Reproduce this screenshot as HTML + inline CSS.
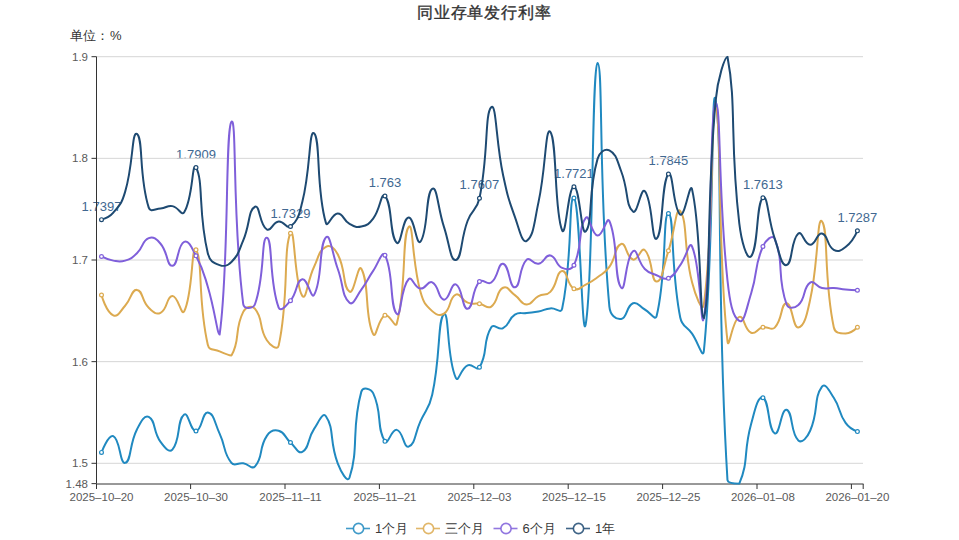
<!DOCTYPE html>
<html><head><meta charset="utf-8"><style>
html,body{margin:0;padding:0;background:#fff;width:959px;height:540px;overflow:hidden;position:relative;font-family:"Liberation Sans",sans-serif}
.title{position:absolute;left:417px;top:3px;font-size:16px;letter-spacing:0.8px;font-weight:normal;-webkit-text-stroke:0.35px #333;color:#333;white-space:nowrap}
.unit{position:absolute;left:70px;top:27px;font-size:13px;color:#333;white-space:nowrap}
</style></head><body>
<svg width="959" height="540" viewBox="0 0 959 540" style="position:absolute;left:0;top:0"><defs><clipPath id="cp"><rect x="95.5" y="55.7" width="768.0" height="428.92999999999995"/></clipPath></defs><text x="101.50" y="210.64" text-anchor="middle" font-size="13" fill="#416891" font-family="Liberation Sans, sans-serif">1.7397</text><text x="195.99" y="158.60" text-anchor="middle" font-size="13" fill="#416891" font-family="Liberation Sans, sans-serif">1.7909</text><text x="290.48" y="217.56" text-anchor="middle" font-size="13" fill="#416891" font-family="Liberation Sans, sans-serif">1.7329</text><text x="384.96" y="186.96" text-anchor="middle" font-size="13" fill="#416891" font-family="Liberation Sans, sans-serif">1.763</text><text x="479.45" y="189.30" text-anchor="middle" font-size="13" fill="#416891" font-family="Liberation Sans, sans-serif">1.7607</text><text x="573.94" y="177.71" text-anchor="middle" font-size="13" fill="#416891" font-family="Liberation Sans, sans-serif">1.7721</text><text x="668.43" y="165.11" text-anchor="middle" font-size="13" fill="#416891" font-family="Liberation Sans, sans-serif">1.7845</text><text x="762.92" y="188.69" text-anchor="middle" font-size="13" fill="#416891" font-family="Liberation Sans, sans-serif">1.7613</text><text x="857.40" y="221.83" text-anchor="middle" font-size="13" fill="#416891" font-family="Liberation Sans, sans-serif">1.7287</text><line x1="96.5" y1="56.70" x2="863" y2="56.70" stroke="#d6d6d6" stroke-width="1"/><line x1="96.5" y1="158.35" x2="863" y2="158.35" stroke="#d6d6d6" stroke-width="1"/><line x1="96.5" y1="260.00" x2="863" y2="260.00" stroke="#d6d6d6" stroke-width="1"/><line x1="96.5" y1="361.65" x2="863" y2="361.65" stroke="#d6d6d6" stroke-width="1"/><line x1="96.5" y1="463.30" x2="863" y2="463.30" stroke="#d6d6d6" stroke-width="1"/><line x1="96.5" y1="56.70" x2="96.5" y2="483.63" stroke="#333" stroke-width="1"/><line x1="91.5" y1="56.70" x2="96.5" y2="56.70" stroke="#333" stroke-width="1"/><line x1="91.5" y1="158.35" x2="96.5" y2="158.35" stroke="#333" stroke-width="1"/><line x1="91.5" y1="260.00" x2="96.5" y2="260.00" stroke="#333" stroke-width="1"/><line x1="91.5" y1="361.65" x2="96.5" y2="361.65" stroke="#333" stroke-width="1"/><line x1="91.5" y1="463.30" x2="96.5" y2="463.30" stroke="#333" stroke-width="1"/><line x1="91.5" y1="483.63" x2="96.5" y2="483.63" stroke="#333" stroke-width="1"/><line x1="96.5" y1="484" x2="863.5" y2="484" stroke="#333" stroke-width="1"/><line x1="96.50" y1="484" x2="96.50" y2="489" stroke="#333" stroke-width="1"/><line x1="190.60" y1="484" x2="190.60" y2="489" stroke="#333" stroke-width="1"/><line x1="285.00" y1="484" x2="285.00" y2="489" stroke="#333" stroke-width="1"/><line x1="379.40" y1="484" x2="379.40" y2="489" stroke="#333" stroke-width="1"/><line x1="473.80" y1="484" x2="473.80" y2="489" stroke="#333" stroke-width="1"/><line x1="568.20" y1="484" x2="568.20" y2="489" stroke="#333" stroke-width="1"/><line x1="662.60" y1="484" x2="662.60" y2="489" stroke="#333" stroke-width="1"/><line x1="757.00" y1="484" x2="757.00" y2="489" stroke="#333" stroke-width="1"/><line x1="851.40" y1="484" x2="851.40" y2="489" stroke="#333" stroke-width="1"/><line x1="863.20" y1="484" x2="863.20" y2="489" stroke="#333" stroke-width="1"/><g clip-path="url(#cp)" fill="none" stroke-width="2" stroke-linejoin="round" stroke-linecap="round"><path d="M101.50 452.42C101.50 452.42 108.50 434.03 113.31 436.16C120.31 439.26 119.79 464.41 125.12 462.89C131.60 461.05 128.98 444.92 136.93 429.45C140.79 421.95 144.22 414.55 148.74 416.95C156.03 420.80 152.72 431.14 160.56 441.95C164.54 447.45 169.11 453.36 172.37 449.58C180.93 439.63 176.55 420.52 184.18 414.51C188.36 411.22 190.32 431.46 195.99 430.98C202.13 430.45 202.18 411.85 207.80 412.47C213.99 413.17 214.48 422.67 219.61 433.62C226.29 447.88 222.83 452.10 231.42 462.89C234.64 466.94 237.42 462.45 243.23 463.30C249.23 464.18 251.83 470.08 255.04 466.35C263.65 456.35 258.38 448.62 266.85 435.85C270.19 430.83 273.51 429.33 278.66 430.77C285.32 432.63 284.28 436.94 290.48 442.46C296.09 447.46 297.94 454.32 302.29 451.81C309.75 447.51 307.02 439.50 314.10 428.84C318.83 421.71 322.81 411.71 325.91 416.24C334.62 428.94 329.17 441.11 337.72 463.30C340.98 471.76 347.45 483.63 349.53 477.53C359.27 448.00 350.96 428.73 361.34 391.64C362.77 386.54 370.87 388.35 373.15 393.16C382.68 413.20 376.10 427.57 384.96 441.34C387.91 445.92 391.51 428.68 396.77 429.86C403.33 431.32 403.58 448.42 408.59 446.63C415.39 444.20 414.64 434.09 420.40 421.42C426.45 408.12 429.08 408.86 432.21 394.69C440.89 355.29 437.44 318.95 444.02 314.28C449.26 310.56 446.50 357.72 455.83 377.91C458.31 383.28 460.67 368.56 467.64 365.41C472.48 363.22 476.82 371.49 479.45 367.24C488.63 352.38 482.06 342.39 491.26 327.19C493.87 322.87 498.38 330.69 503.07 328.21C510.19 324.44 507.79 319.24 514.88 314.69C519.60 311.67 520.79 313.85 526.70 313.06C532.60 312.27 532.68 312.69 538.51 311.54C544.49 310.35 544.31 309.08 550.32 308.39C556.12 307.71 561.00 314.08 562.13 308.79C572.81 258.89 568.41 194.40 573.94 197.99C580.22 202.08 581.90 346.18 585.75 324.14C593.71 278.68 591.45 67.55 597.56 63.00C603.26 63.00 598.34 186.98 609.37 306.56C610.15 314.95 615.69 319.74 621.18 318.96C627.50 318.06 625.96 306.02 633.00 303.20C637.78 301.29 638.91 306.33 644.81 309.50C650.72 312.69 655.26 321.44 656.62 315.91C667.07 273.41 662.57 213.04 668.43 213.44C674.38 213.85 670.32 267.05 680.24 317.53C682.13 327.18 686.28 325.52 692.05 333.70C698.09 342.24 702.95 359.96 703.86 350.98C714.76 243.32 710.97 74.74 715.67 100.41C722.79 139.28 716.04 294.49 727.48 480.07C727.85 483.63 737.30 483.63 739.29 483.63C749.11 460.30 743.09 453.12 751.11 423.96C754.90 410.17 757.79 395.71 762.92 397.74C769.60 400.38 767.79 429.79 774.73 433.31C779.60 435.79 781.28 408.15 786.54 409.73C793.09 411.70 790.28 433.24 798.35 440.43C802.09 443.76 807.21 437.51 810.16 430.77C819.02 410.57 813.26 398.74 821.97 386.55C825.07 382.22 829.42 391.03 833.78 397.74C841.23 409.17 837.87 411.78 845.59 422.84C849.68 428.70 857.40 431.59 857.40 431.59" stroke="#2089c0"/><path d="M101.50 295.07C101.50 295.07 106.15 312.16 113.31 315.40C117.96 317.50 119.98 311.30 125.12 305.74C131.79 298.54 131.27 289.40 136.93 289.89C143.08 290.41 141.36 300.60 148.74 307.78C153.17 312.08 156.00 315.11 160.56 312.86C167.82 309.27 166.28 296.48 172.37 296.09C178.09 295.72 181.40 316.78 184.18 311.33C193.21 293.65 191.31 243.24 195.99 249.83C203.12 259.91 197.46 300.22 207.80 344.67C209.27 350.99 213.46 348.58 219.61 351.38C225.27 353.96 228.86 355.45 231.42 355.45C240.67 339.96 233.93 330.21 243.23 311.84C245.74 306.88 251.90 305.01 255.04 308.79C263.71 319.24 258.32 327.01 266.85 340.30C270.13 345.41 277.45 351.09 278.66 345.59C289.26 297.57 282.93 249.16 290.48 233.27C294.74 224.30 294.38 284.69 302.29 295.88C306.19 301.41 307.29 280.85 314.10 266.71C319.10 256.30 318.54 250.69 325.91 246.79C330.35 244.44 334.63 248.32 337.72 254.21C346.44 270.79 342.40 287.33 349.53 291.71C354.21 294.60 358.03 262.81 361.34 268.74C369.85 284.00 364.30 316.66 373.15 334.10C376.11 339.94 377.81 318.47 384.96 315.30C389.62 313.23 395.25 329.34 396.77 323.63C407.06 285.22 401.53 236.66 408.59 227.07C413.34 220.60 411.64 260.37 420.40 291.51C423.46 302.40 424.48 303.88 432.21 311.13C436.29 314.96 439.89 316.57 444.02 313.67C451.70 308.28 448.62 297.91 455.83 294.56C460.43 292.42 461.18 300.16 467.64 302.69C472.99 304.79 473.61 302.86 479.45 303.81C485.42 304.79 487.09 309.39 491.26 306.56C498.90 301.36 495.81 291.28 503.07 287.75C507.62 285.54 509.22 291.07 514.88 295.07C521.03 299.41 520.67 304.16 526.70 304.42C532.48 304.67 532.18 299.44 538.51 296.09C543.99 293.18 546.26 296.21 550.32 291.92C558.07 283.71 555.87 271.91 562.13 271.08C567.68 270.34 566.51 284.51 573.94 288.77C578.32 291.27 580.15 287.32 585.75 284.60C591.96 281.58 592.02 281.43 597.56 277.28C603.83 272.59 604.91 273.22 609.37 266.91C616.72 256.55 614.47 246.02 621.18 243.94C626.28 242.36 626.33 257.84 633.00 259.59C638.14 260.94 641.14 246.73 644.81 250.14C652.95 257.71 650.65 281.37 656.62 281.55C662.46 281.73 663.20 266.43 668.43 250.85C675.01 231.26 675.93 205.47 680.24 211.21C687.75 221.22 683.28 247.76 692.05 282.36C695.09 294.37 702.53 314.26 703.86 304.42C714.34 226.84 710.27 107.52 715.67 107.52C722.08 117.48 716.89 247.22 727.48 341.12C728.70 351.92 732.48 319.33 739.29 316.92C744.30 315.16 743.98 329.66 751.11 332.78C755.80 334.84 756.72 328.65 762.92 327.29C768.53 326.06 771.14 331.25 774.73 327.60C782.95 319.21 780.63 303.20 786.54 303.20C792.44 303.20 792.78 328.44 798.35 327.60C804.59 326.66 806.89 314.36 810.16 299.64C818.70 261.25 816.93 215.50 821.97 221.37C828.75 229.27 823.29 277.42 833.78 327.19C835.10 333.43 839.68 333.37 845.59 333.39C851.49 333.42 857.40 327.29 857.40 327.29" stroke="#dcaa50"/><path d="M101.50 256.44C101.50 256.44 107.23 259.54 113.31 260.61C119.04 261.62 119.70 262.29 125.12 260.61C131.51 258.63 131.98 258.01 136.93 253.29C143.79 246.77 141.72 240.99 148.74 238.15C153.53 236.21 156.50 238.99 160.56 243.74C168.31 252.82 166.66 266.26 172.37 265.79C178.47 265.30 177.17 244.76 184.18 241.80C188.98 239.78 191.78 247.82 195.99 255.83C203.59 270.29 203.05 270.92 207.80 286.73C214.86 310.26 217.39 334.51 219.61 334.51C229.20 267.50 225.06 129.97 231.42 121.76C236.87 114.72 232.14 218.42 243.23 304.01C243.95 309.55 253.28 308.96 255.04 304.01C265.09 275.77 261.10 236.77 266.85 237.64C272.91 238.55 268.76 281.16 278.66 307.57C280.58 312.67 286.24 305.74 290.48 300.66C298.05 291.56 295.73 280.82 302.29 279.21C307.54 277.92 311.14 300.10 314.10 294.87C322.95 279.21 318.39 245.75 325.91 237.43C330.20 232.69 332.03 253.01 337.72 268.74C343.84 285.64 341.60 295.66 349.53 302.69C353.41 306.13 356.12 296.71 361.34 289.68C367.94 280.80 366.88 280.03 373.15 270.88C378.69 262.80 382.05 249.92 384.96 255.22C393.86 271.41 389.45 306.43 396.77 313.87C401.26 318.43 400.22 288.18 408.59 279.21C412.03 275.52 414.13 287.73 420.40 288.56C425.94 289.30 427.61 280.21 432.21 282.36C439.42 285.75 437.87 299.11 444.02 299.64C449.68 300.13 450.92 282.49 455.83 284.40C462.73 287.07 462.00 309.47 467.64 308.79C473.82 308.05 471.01 290.92 479.45 281.55C482.82 277.81 487.15 285.66 491.26 282.57C498.96 276.77 497.68 262.67 503.07 263.76C509.49 265.06 509.37 288.32 514.88 287.34C521.19 286.23 518.35 267.92 526.70 259.59C530.16 256.13 533.02 264.73 538.51 263.76C544.84 262.64 544.92 254.47 550.32 255.43C556.74 256.56 555.20 265.07 562.13 267.93C567.01 269.95 571.59 270.17 573.94 265.18C583.40 245.11 577.53 228.10 585.75 217.82C589.34 213.31 591.28 234.77 597.56 235.60C603.09 236.34 606.81 215.31 609.37 220.97C618.62 241.38 613.64 278.08 621.18 287.75C625.45 293.22 625.40 257.31 633.00 251.26C637.21 247.90 637.56 261.58 644.81 268.95C649.37 273.58 650.44 272.80 656.62 275.25C662.25 277.48 663.61 280.37 668.43 278.30C675.42 275.29 674.97 272.17 680.24 265.08C686.78 256.27 689.29 240.32 692.05 246.48C701.11 266.74 700.89 334.51 703.86 317.94C712.70 264.02 709.20 112.74 715.67 102.44C721.01 102.44 717.94 192.03 727.48 280.33C729.75 301.30 732.38 317.15 739.29 320.99C744.19 323.71 746.59 307.69 751.11 293.44C758.40 270.43 753.77 267.65 762.92 246.48C765.58 240.31 772.66 233.70 774.73 238.76C784.47 262.57 776.51 276.13 786.54 304.22C788.32 309.21 794.58 308.38 798.35 304.93C806.40 297.55 802.36 288.18 810.16 282.57C814.17 279.69 815.79 286.54 821.97 287.95C827.60 289.24 827.90 287.57 833.78 287.95C839.71 288.34 839.67 288.92 845.59 289.48C851.48 290.04 857.40 290.19 857.40 290.19" stroke="#7f5fda"/><path d="M101.50 219.64C101.50 219.64 109.00 217.70 113.31 212.63C120.81 203.82 121.73 203.21 125.12 191.89C133.54 163.87 131.71 130.47 136.93 133.95C143.52 138.35 138.55 175.50 148.74 207.65C150.36 212.75 154.70 208.84 160.56 208.46C166.51 208.08 166.75 205.23 172.37 206.13C178.56 207.11 181.54 216.53 184.18 212.22C193.35 197.27 191.88 160.47 195.99 167.60C203.69 180.95 197.91 212.37 207.80 253.19C209.72 261.11 212.77 262.52 219.61 265.08C224.58 266.95 227.51 266.12 231.42 262.03C239.32 253.77 238.40 251.69 243.23 240.38C250.21 224.04 248.17 209.90 255.04 206.74C259.98 204.46 259.26 224.73 266.85 229.50C271.07 232.15 272.45 222.35 278.66 221.58C284.26 220.88 286.69 229.68 290.48 226.56C298.50 219.92 298.97 215.14 302.29 202.06C310.78 168.53 308.95 128.81 314.10 133.34C320.76 139.22 315.79 188.59 325.91 222.90C327.60 228.64 331.94 213.20 337.72 213.44C343.75 213.70 342.85 220.20 349.53 223.91C354.66 226.76 355.91 227.77 361.34 226.56C367.72 225.13 368.93 224.10 373.15 218.63C380.74 208.80 380.87 191.79 384.96 195.96C392.68 203.83 389.28 235.85 396.77 242.72C401.09 246.67 402.58 217.87 408.59 217.61C414.39 217.36 416.48 246.47 420.40 241.70C428.30 232.08 425.41 193.05 432.21 188.84C437.23 185.74 437.72 208.09 444.02 227.07C449.53 243.66 450.39 261.45 455.83 260.00C462.20 258.30 460.35 239.81 467.64 220.76C472.16 208.96 476.89 210.59 479.45 198.30C488.71 153.82 484.51 113.87 491.26 107.22C496.32 102.23 495.83 141.42 503.07 175.02C507.64 196.21 507.58 196.45 514.88 216.80C519.39 229.33 521.99 243.70 526.70 240.79C533.80 236.38 534.23 221.86 538.51 202.16C546.04 167.43 545.38 126.03 550.32 131.92C557.19 140.11 554.02 211.50 562.13 230.32C565.83 238.90 568.10 186.43 573.94 186.71C579.92 186.99 581.19 236.81 585.75 231.44C593.00 222.89 587.70 192.69 597.56 158.86C599.51 152.18 604.92 148.08 609.37 150.42C616.73 154.28 616.90 160.16 621.18 171.26C628.71 190.75 625.43 205.23 633.00 211.61C637.24 215.20 640.96 186.78 644.81 191.18C652.77 200.30 651.57 242.30 656.62 238.65C663.38 233.76 661.24 181.44 668.43 174.11C673.05 169.39 673.13 209.97 680.24 214.56C684.94 217.60 689.96 180.18 692.05 189.35C701.77 232.02 699.46 318.25 703.86 318.25C711.27 290.33 705.89 208.71 715.67 100.41C717.70 77.93 724.97 56.70 727.48 56.70C736.78 105.09 729.52 140.87 739.29 223.41C741.33 240.64 746.75 260.98 751.11 256.24C758.56 248.12 756.02 202.82 762.92 197.69C767.84 194.03 767.69 218.58 774.73 238.65C779.50 252.28 781.08 266.26 786.54 265.08C792.89 263.72 790.39 240.42 798.35 233.57C802.20 230.26 804.25 244.75 810.16 244.75C816.07 244.75 816.69 232.43 821.97 233.57C828.50 234.98 826.42 245.62 833.78 249.83C838.23 252.38 841.15 250.67 845.59 247.09C852.96 241.16 857.40 230.83 857.40 230.83" stroke="#1e4a72"/></g><circle cx="101.50" cy="452.42" r="1.9" fill="#fff" stroke="#2089c0" stroke-width="1.2"/><circle cx="195.99" cy="430.98" r="1.9" fill="#fff" stroke="#2089c0" stroke-width="1.2"/><circle cx="290.48" cy="442.46" r="1.9" fill="#fff" stroke="#2089c0" stroke-width="1.2"/><circle cx="384.96" cy="441.34" r="1.9" fill="#fff" stroke="#2089c0" stroke-width="1.2"/><circle cx="479.45" cy="367.24" r="1.9" fill="#fff" stroke="#2089c0" stroke-width="1.2"/><circle cx="573.94" cy="197.99" r="1.9" fill="#fff" stroke="#2089c0" stroke-width="1.2"/><circle cx="668.43" cy="213.44" r="1.9" fill="#fff" stroke="#2089c0" stroke-width="1.2"/><circle cx="762.92" cy="397.74" r="1.9" fill="#fff" stroke="#2089c0" stroke-width="1.2"/><circle cx="857.40" cy="431.59" r="1.9" fill="#fff" stroke="#2089c0" stroke-width="1.2"/><circle cx="101.50" cy="295.07" r="1.9" fill="#fff" stroke="#dcaa50" stroke-width="1.2"/><circle cx="195.99" cy="249.83" r="1.9" fill="#fff" stroke="#dcaa50" stroke-width="1.2"/><circle cx="290.48" cy="233.27" r="1.9" fill="#fff" stroke="#dcaa50" stroke-width="1.2"/><circle cx="384.96" cy="315.30" r="1.9" fill="#fff" stroke="#dcaa50" stroke-width="1.2"/><circle cx="479.45" cy="303.81" r="1.9" fill="#fff" stroke="#dcaa50" stroke-width="1.2"/><circle cx="573.94" cy="288.77" r="1.9" fill="#fff" stroke="#dcaa50" stroke-width="1.2"/><circle cx="668.43" cy="250.85" r="1.9" fill="#fff" stroke="#dcaa50" stroke-width="1.2"/><circle cx="762.92" cy="327.29" r="1.9" fill="#fff" stroke="#dcaa50" stroke-width="1.2"/><circle cx="857.40" cy="327.29" r="1.9" fill="#fff" stroke="#dcaa50" stroke-width="1.2"/><circle cx="101.50" cy="256.44" r="1.9" fill="#fff" stroke="#7f5fda" stroke-width="1.2"/><circle cx="195.99" cy="255.83" r="1.9" fill="#fff" stroke="#7f5fda" stroke-width="1.2"/><circle cx="290.48" cy="300.66" r="1.9" fill="#fff" stroke="#7f5fda" stroke-width="1.2"/><circle cx="384.96" cy="255.22" r="1.9" fill="#fff" stroke="#7f5fda" stroke-width="1.2"/><circle cx="479.45" cy="281.55" r="1.9" fill="#fff" stroke="#7f5fda" stroke-width="1.2"/><circle cx="573.94" cy="265.18" r="1.9" fill="#fff" stroke="#7f5fda" stroke-width="1.2"/><circle cx="668.43" cy="278.30" r="1.9" fill="#fff" stroke="#7f5fda" stroke-width="1.2"/><circle cx="762.92" cy="246.48" r="1.9" fill="#fff" stroke="#7f5fda" stroke-width="1.2"/><circle cx="857.40" cy="290.19" r="1.9" fill="#fff" stroke="#7f5fda" stroke-width="1.2"/><circle cx="101.50" cy="219.64" r="1.9" fill="#fff" stroke="#1e4a72" stroke-width="1.2"/><circle cx="195.99" cy="167.60" r="1.9" fill="#fff" stroke="#1e4a72" stroke-width="1.2"/><circle cx="290.48" cy="226.56" r="1.9" fill="#fff" stroke="#1e4a72" stroke-width="1.2"/><circle cx="384.96" cy="195.96" r="1.9" fill="#fff" stroke="#1e4a72" stroke-width="1.2"/><circle cx="479.45" cy="198.30" r="1.9" fill="#fff" stroke="#1e4a72" stroke-width="1.2"/><circle cx="573.94" cy="186.71" r="1.9" fill="#fff" stroke="#1e4a72" stroke-width="1.2"/><circle cx="668.43" cy="174.11" r="1.9" fill="#fff" stroke="#1e4a72" stroke-width="1.2"/><circle cx="762.92" cy="197.69" r="1.9" fill="#fff" stroke="#1e4a72" stroke-width="1.2"/><circle cx="857.40" cy="230.83" r="1.9" fill="#fff" stroke="#1e4a72" stroke-width="1.2"/><text x="88.0" y="60.70" text-anchor="end" font-size="11.5" fill="#5a5a5a" font-family="Liberation Sans, sans-serif">1.9</text><text x="88.0" y="162.35" text-anchor="end" font-size="11.5" fill="#5a5a5a" font-family="Liberation Sans, sans-serif">1.8</text><text x="88.0" y="264.00" text-anchor="end" font-size="11.5" fill="#5a5a5a" font-family="Liberation Sans, sans-serif">1.7</text><text x="88.0" y="365.65" text-anchor="end" font-size="11.5" fill="#5a5a5a" font-family="Liberation Sans, sans-serif">1.6</text><text x="88.0" y="467.30" text-anchor="end" font-size="11.5" fill="#5a5a5a" font-family="Liberation Sans, sans-serif">1.5</text><text x="88.0" y="487.63" text-anchor="end" font-size="11.5" fill="#5a5a5a" font-family="Liberation Sans, sans-serif">1.48</text><text x="101.50" y="500.6" text-anchor="middle" font-size="11.5" fill="#5a5a5a" font-family="Liberation Sans, sans-serif">2025–10–20</text><text x="195.99" y="500.6" text-anchor="middle" font-size="11.5" fill="#5a5a5a" font-family="Liberation Sans, sans-serif">2025–10–30</text><text x="290.48" y="500.6" text-anchor="middle" font-size="11.5" fill="#5a5a5a" font-family="Liberation Sans, sans-serif">2025–11–11</text><text x="384.96" y="500.6" text-anchor="middle" font-size="11.5" fill="#5a5a5a" font-family="Liberation Sans, sans-serif">2025–11–21</text><text x="479.45" y="500.6" text-anchor="middle" font-size="11.5" fill="#5a5a5a" font-family="Liberation Sans, sans-serif">2025–12–03</text><text x="573.94" y="500.6" text-anchor="middle" font-size="11.5" fill="#5a5a5a" font-family="Liberation Sans, sans-serif">2025–12–15</text><text x="668.43" y="500.6" text-anchor="middle" font-size="11.5" fill="#5a5a5a" font-family="Liberation Sans, sans-serif">2025–12–25</text><text x="762.92" y="500.6" text-anchor="middle" font-size="11.5" fill="#5a5a5a" font-family="Liberation Sans, sans-serif">2026–01–08</text><text x="857.40" y="500.6" text-anchor="middle" font-size="11.5" fill="#5a5a5a" font-family="Liberation Sans, sans-serif">2026–01–20</text><line x1="346" y1="528.5" x2="370" y2="528.5" stroke="#2089c0" stroke-width="1.6" stroke-opacity="0.85"/><circle cx="358.5" cy="528.5" r="5.1" fill="#fff" stroke="#2089c0" stroke-width="1.6" stroke-opacity="0.85"/><text x="375" y="533.0" font-size="13" fill="#3a3a3a" font-family="Liberation Sans, sans-serif">1个月</text><line x1="416" y1="528.5" x2="440" y2="528.5" stroke="#dcaa50" stroke-width="1.6" stroke-opacity="0.85"/><circle cx="428.5" cy="528.5" r="5.1" fill="#fff" stroke="#dcaa50" stroke-width="1.6" stroke-opacity="0.85"/><text x="445" y="533.0" font-size="13" fill="#3a3a3a" font-family="Liberation Sans, sans-serif">三个月</text><line x1="493.5" y1="528.5" x2="517.5" y2="528.5" stroke="#7f5fda" stroke-width="1.6" stroke-opacity="0.85"/><circle cx="506.0" cy="528.5" r="5.1" fill="#fff" stroke="#7f5fda" stroke-width="1.6" stroke-opacity="0.85"/><text x="522.5" y="533.0" font-size="13" fill="#3a3a3a" font-family="Liberation Sans, sans-serif">6个月</text><line x1="566" y1="528.5" x2="590" y2="528.5" stroke="#1e4a72" stroke-width="1.6" stroke-opacity="0.85"/><circle cx="578.5" cy="528.5" r="5.1" fill="#fff" stroke="#1e4a72" stroke-width="1.6" stroke-opacity="0.85"/><text x="595" y="533.0" font-size="13" fill="#3a3a3a" font-family="Liberation Sans, sans-serif">1年</text></svg>
<div class="title">同业存单发行利率</div>
<div class="unit">单位：<span style="margin-left:1px">%</span></div>
</body></html>
